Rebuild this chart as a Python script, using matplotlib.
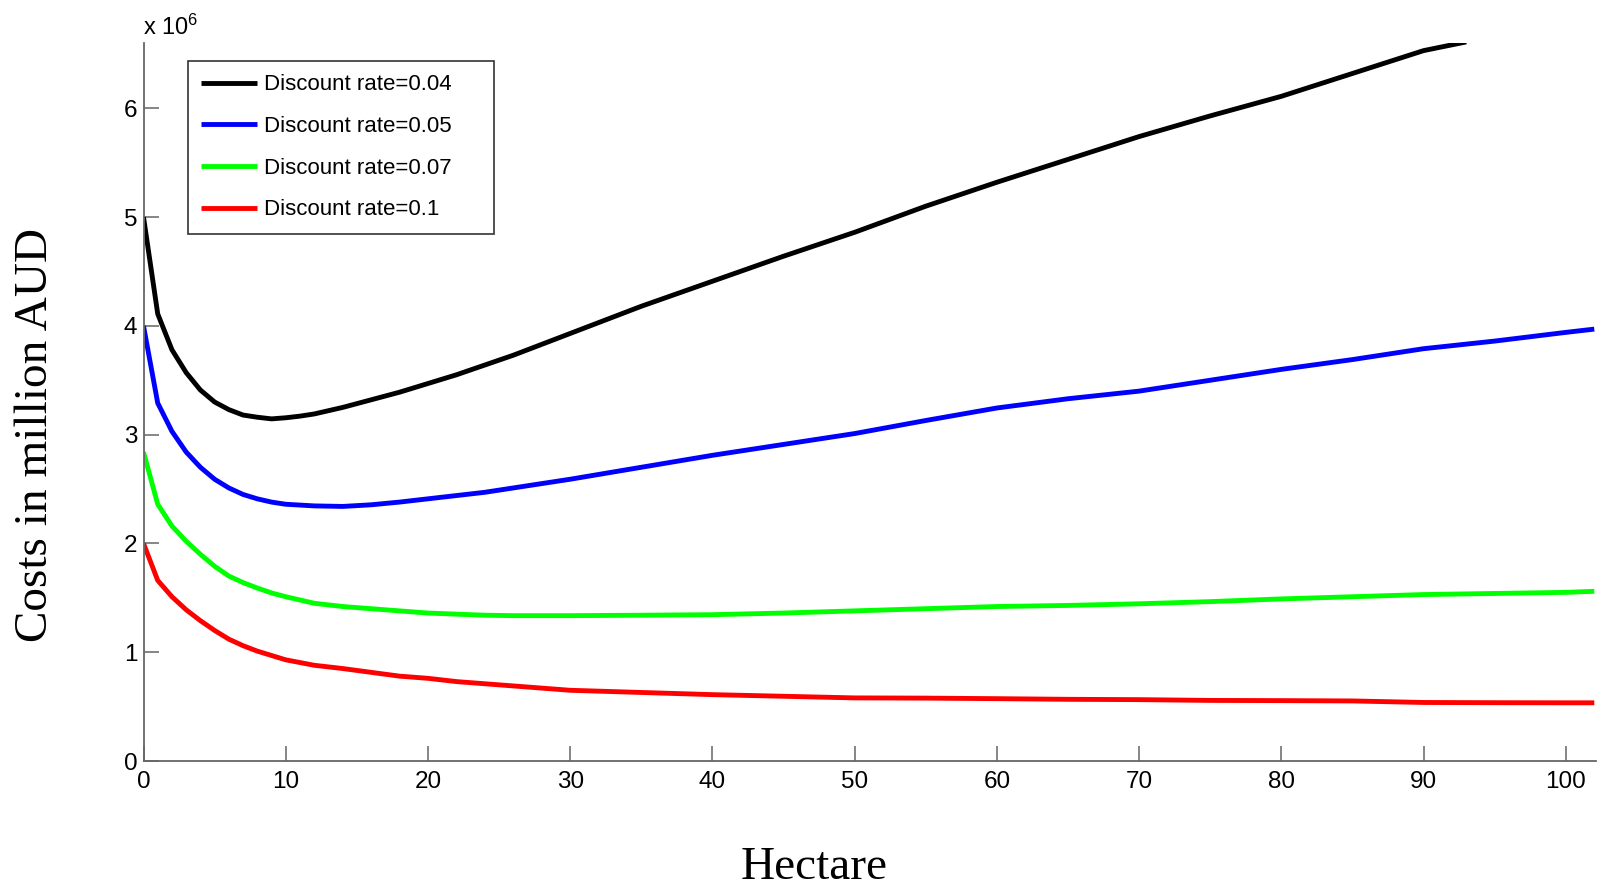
import matplotlib
matplotlib.use("Agg")
import matplotlib.pyplot as plt

plt.rcParams['font.family'] = ['Liberation Sans', 'DejaVu Sans']
plt.rcParams['mathtext.fontset'] = 'custom'
plt.rcParams['mathtext.rm'] = 'Liberation Sans'
plt.rcParams['mathtext.it'] = 'Liberation Sans'
plt.rcParams['mathtext.bf'] = 'Liberation Sans'

# ---- data (costs in millions of AUD) ----
ha_004 = [0, 1, 2, 3, 4, 5, 6, 7, 8, 9, 10, 11, 12, 13, 14, 15, 16, 17, 18, 19, 20,
          22, 24, 26, 30, 35, 40, 45, 50, 55, 60, 65, 70, 75, 80, 85, 90, 93]
cost_004 = [5.0, 4.11, 3.78, 3.57, 3.41, 3.30, 3.23, 3.18, 3.16, 3.145, 3.155, 3.17, 3.19,
            3.22, 3.25, 3.285, 3.32, 3.355, 3.39, 3.43, 3.47, 3.55, 3.64, 3.73, 3.93, 4.18,
            4.41, 4.64, 4.86, 5.10, 5.32, 5.53, 5.74, 5.93, 6.11, 6.32, 6.53, 6.61]

ha = [0, 1, 2, 3, 4, 5, 6, 7, 8, 9, 10, 12, 14, 16, 18, 20, 22, 24, 26, 30, 35, 40, 45,
      50, 55, 60, 65, 70, 75, 80, 85, 90, 95, 100, 102]
cost_005 = [4.0, 3.29, 3.03, 2.84, 2.70, 2.59, 2.51, 2.45, 2.41, 2.38, 2.36, 2.345, 2.34,
            2.355, 2.38, 2.41, 2.44, 2.47, 2.51, 2.59, 2.70, 2.81, 2.91, 3.01, 3.13, 3.245,
            3.33, 3.40, 3.50, 3.60, 3.69, 3.79, 3.86, 3.94, 3.97]
cost_007 = [2.84, 2.36, 2.16, 2.02, 1.90, 1.79, 1.70, 1.64, 1.59, 1.545, 1.51, 1.45, 1.42,
            1.40, 1.38, 1.36, 1.35, 1.34, 1.336, 1.336, 1.34, 1.345, 1.36, 1.38, 1.40, 1.42,
            1.43, 1.445, 1.465, 1.49, 1.51, 1.53, 1.54, 1.55, 1.56]
cost_010 = [2.0, 1.66, 1.51, 1.39, 1.29, 1.20, 1.12, 1.06, 1.01, 0.97, 0.93, 0.88, 0.85,
            0.815, 0.78, 0.76, 0.73, 0.71, 0.69, 0.65, 0.63, 0.61, 0.595, 0.58, 0.578,
            0.573, 0.567, 0.564, 0.557, 0.555, 0.552, 0.538, 0.536, 0.535, 0.535]

labels = ['Discount rate=0.04', 'Discount rate=0.05', 'Discount rate=0.07', 'Discount rate=0.1']
colors = ['#000000', '#0000ff', '#00ff00', '#ff0000']
xticks = [0, 10, 20, 30, 40, 50, 60, 70, 80, 90, 100]
yticks = [0, 1, 2, 3, 4, 5, 6]

fig = plt.figure(figsize=(16.01, 8.9), dpi=100)
W, H = 1601, 890
ax = fig.add_axes([143.5 / W, 1 - 761 / H, 1452.2 / W, 718 / H])

series = [(ha_004, cost_004), (ha, cost_005), (ha, cost_007), (ha, cost_010)]
for (xs, ys), c, lab in zip(series, colors, labels):
    ax.plot(xs, ys, color=c, lw=3.5, label=lab, solid_joinstyle='round', solid_capstyle='butt')

ax.set_xlim(0, 102.1)
ax.set_ylim(0, 6.6)
ax.set_xticks(xticks)
ax.set_yticks(yticks)
ax.set_xticklabels([str(t) for t in xticks])
ax.set_yticklabels([str(t) for t in yticks])

for s in ['top', 'right']:
    ax.spines[s].set_visible(False)
for s in ['left', 'bottom']:
    ax.spines[s].set_color('#666666')
    ax.spines[s].set_linewidth(1.3)

ax.tick_params(axis='both', direction='in', length=10.5, width=1.1, color='#666666',
               labelsize=17.5, labelcolor='black')
ax.tick_params(axis='x', pad=7)
ax.tick_params(axis='y', pad=4.5)

lx0 = 44.5 / 1452.2
ltop = (761 - 61) / 718
lw_ = 306 / 1452.2
lh = 169 / 718
leg = ax.legend(loc='upper left', bbox_to_anchor=(lx0, ltop - lh, lw_, lh),
                mode='expand', fontsize=16, frameon=True, fancybox=False, borderaxespad=0,
                handlelength=2.5, handletextpad=0.33, labelspacing=0.93, borderpad=0.6)
leg.get_frame().set_edgecolor('black')
leg.get_frame().set_linewidth(1.2)

fig.text(143 / W, 1 - 35 / H, r'x 10$^{6}$', fontsize=17, ha='left', va='baseline')
fig.text(36 / W, 1 - 435 / H, 'Costs in million AUD', family='Liberation Serif', fontsize=34,
         rotation=90, ha='center', va='center')
fig.text(814 / W, 1 - 879 / H, 'Hectare', family='Liberation Serif', fontsize=34,
         ha='center', va='baseline')

fig.savefig('out.png', dpi=100)
